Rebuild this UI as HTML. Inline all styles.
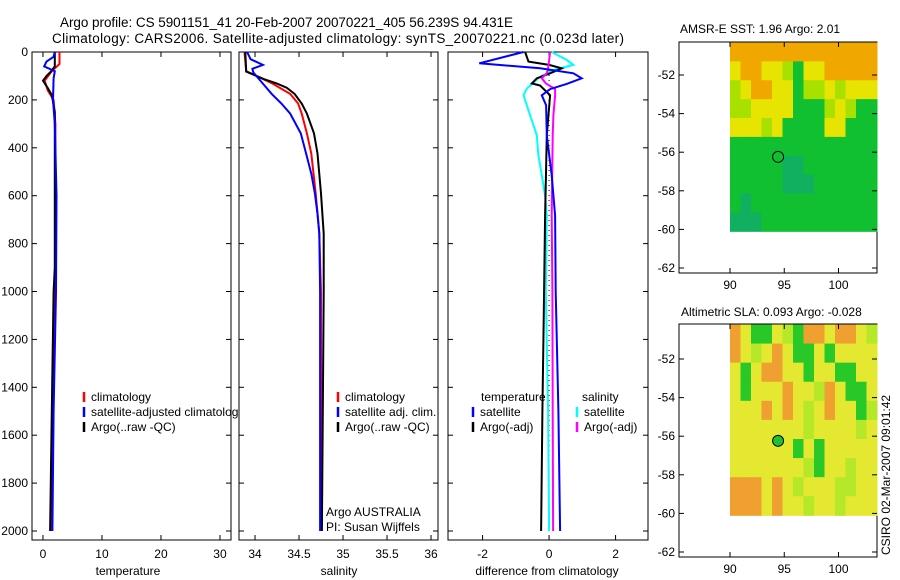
<!DOCTYPE html>
<html><head><meta charset="utf-8"><style>
body{margin:0;background:#fff}
svg{display:block;font-family:"Liberation Sans",sans-serif}
text{fill:#000}
</style></head><body>
<svg id="c" width="900" height="580" viewBox="0 0 900 580">
<text x="60" y="27" font-size="13.5" textLength="453">Argo profile: CS 5901151_41 20-Feb-2007 20070221_405 56.239S 94.431E</text>
<text x="52" y="43" font-size="13.5" textLength="572">Climatology: CARS2006. Satellite-adjusted climatology: synTS_20070221.nc (0.023d later)</text>
<text x="128" y="575" font-size="12" text-anchor="middle">temperature</text>
<text x="339" y="575" font-size="12" text-anchor="middle">salinity</text>
<text x="547" y="575" font-size="12" text-anchor="middle">difference from climatology</text>
<text transform="translate(890,555) rotate(-90)" font-size="12">CSIRO 02-Mar-2007 09:01:42</text>
<text x="680" y="33" font-size="12">AMSR-E SST: 1.96 Argo: 2.01</text>
<text x="681" y="316" font-size="12">Altimetric SLA: 0.093 Argo: -0.028</text>
<g id="g"></g>
</svg>
<script>
// ---- data ----
const depthTicks=[0,200,400,600,800,1000,1200,1400,1600,1800,2000];
const tempTicks=[0,10,20,30];
const salTicks=[34,34.5,35,35.5,36];
const salTickLabels=["34","34.5","35","35.5","36"];
const diffTicks=[-2,0,2];
const tClimD=[0,50,80,120,160,200,300,600,1000,1500,2000];
const tClimV=[2.8,2.8,1.5,0.3,0.8,1.8,2.1,2.1,2.0,1.7,1.5];
const tArgoD=[0,60,80,100,120,150,180,250,400,900,1000,1500,2000];
const tArgoV=[2.0,2.0,1.4,0.6,0.0,0.8,1.5,2.0,2.0,2.0,1.8,1.5,1.2];
const tSatD=[0,20,40,60,80,110,200,300,600,1000,1500,2000];
const tSatV=[2.0,1.8,0.6,0.2,2.0,1.8,1.7,2.0,2.3,2.2,1.8,1.6];
const sClimD=[0,80,97,132,175,215,257,340,424,591,758,1000,2000];
const sClimV=[33.88,33.9,34.0,34.2,34.4,34.49,34.53,34.59,34.64,34.69,34.73,34.75,34.75];
const sArgoD=[0,82,113,132,149,175,215,257,340,424,591,758,1000,2000];
const sArgoV=[33.89,33.9,34.1,34.25,34.36,34.45,34.53,34.59,34.67,34.71,34.75,34.78,34.78,34.76];
const sSatD=[0,30,54,70,85,132,175,215,257,340,424,508,591,675,758,1000,2000];
const sSatV=[33.91,33.95,34.09,33.97,33.98,34.09,34.19,34.3,34.4,34.52,34.58,34.64,34.68,34.71,34.73,34.74,34.74];
const dTSatD=[0,47,68,89,110,133,155,181,222,348,515,683,1000,1500,2000];
const dTSatV=[-0.77,-2.1,-0.27,0.73,0.98,0.53,0.03,-0.22,-0.09,-0.07,0.08,0.18,0.2,0.28,0.33];
const dTArgoD=[0,40,54,68,89,110,131,140,181,348,683,1000,1500,2000];
const dTArgoV=[-0.72,-0.62,0,0.38,0.03,-0.37,-0.52,-0.27,0.03,-0.07,-0.12,-0.15,-0.2,-0.24];
const dSSatD=[0,33,54,75,103,153,181,264,348,431,515,600,683,1000,1500,2000];
const dSSatV=[0.08,0.53,0.73,0.13,-0.27,-0.67,-0.77,-0.57,-0.37,-0.32,-0.22,-0.12,-0.07,-0.1,-0.03,0];
const dSArgoD=[0,61,89,110,131,155,181,264,348,683,1000,1500,2000];
const dSArgoV=[0.03,-0.02,-0.07,-0.22,-0.1,0.18,0.18,0.13,0.11,0.08,0.1,0.11,0.12];
const latTicks=[-52,-54,-56,-58,-60,-62];
const lonTicks=[90,95,100];
const sstRows=["OOOOOOOOOOOOOO","YOOYYLGYYOOOOO","LYOOYYGLLYLYYY","LLYYYYGGGLYLGG","YYYLYGGGGYYGGG","GGGGGGGGGGGGGG","GGGGGTTGGGGGGG","GGGGGTTTGGGGGG","GTGGGGGGGGGGGG","TTTGGGGGGGGGGG"];
const slaRows=["OYGGYLGOOYOOYL","OYLYOYGGYGYYYY","YGYOOYYGYYGGYY","YGYYYOYYLOYGGY","YYYOYOYLYOYYGL","YYYYYYYLYYYYLY","YYYYYYGYGYYYYY","YYYYYYYLGYYLYY","OOOYOYLYYYLLYY","OOOYOYYLYYLYYY"];
const floatLon=94.431, floatLat=-56.239;
// ---- drawing ----
const NS="http://www.w3.org/2000/svg",G=document.getElementById('g');
function mk(t,a,p){const e=document.createElementNS(NS,t);for(const k in a)e.setAttribute(k,a[k]);(p||G).appendChild(e);return e;}
const yD=d=>52+d*0.2395;
const panels=[
 {x0:32,x1:231,v0:-1.86,s:5.9,ticks:tempTicks,labels:tempTicks.map(String),name:'temperature'},
 {x0:239,x1:438,v0:33.818,s:88,ticks:salTicks,labels:salTickLabels,name:'salinity'},
 {x0:448,x1:648,v0:-3.04,s:33.25,ticks:diffTicks,labels:diffTicks.map(String),name:'difference'}];
panels.forEach((P,i)=>{
 const xf=v=>P.x0+(v-P.v0)*P.s;
 P.xf=xf;
 const bg=mk('rect',{x:P.x0,y:52,width:P.x1-P.x0,height:488,fill:'#fff',stroke:'#000'});
 
 
 P.ticks.forEach((t,j)=>{
  const x=xf(t);
  mk('line',{x1:x,x2:x,y1:52,y2:57,stroke:'#000'});
  mk('line',{x1:x,x2:x,y1:540,y2:535,stroke:'#000'});
  const tl=mk('text',{x:x,y:558,'font-size':12,'text-anchor':'middle'});tl.textContent=P.labels[j];
  
  
 });
 depthTicks.forEach(d=>{
  const y=yD(d);
  mk('line',{x1:P.x0,x2:P.x0+5,y1:y,y2:y,stroke:'#000'});
  mk('line',{x1:P.x1,x2:P.x1-5,y1:y,y2:y,stroke:'#000'});
  if(i==0){const tl=mk('text',{x:28,y:y+4,'font-size':12,'text-anchor':'end'});tl.textContent=d;
   
   }
 });
});
function line(P,D,V,col,name){
 const pts=D.map((d,k)=>P.xf(V[k]).toFixed(1)+','+yD(d).toFixed(1)).join(' ');
 const l=mk('polyline',{points:pts,fill:'none',stroke:col,'stroke-width':2});
 
 
}
const [P1,P2,P3]=panels;
line(P1,tClimD,tClimV,'#f00','temp-climatology-line');
line(P1,tArgoD,tArgoV,'#000','temp-argo-line');
line(P1,tSatD,tSatV,'#00f','temp-satellite-line');
line(P2,sClimD,sClimV,'#f00','sal-climatology-line');
line(P2,sArgoD,sArgoV,'#000','sal-argo-line');
line(P2,sSatD,sSatV,'#00f','sal-satellite-line');
mk('line',{x1:P3.xf(0),x2:P3.xf(0),y1:60,y2:535,stroke:'#000','stroke-dasharray':'1,4'});
line(P3,dSSatD,dSSatV,'#0ff','diff-sal-satellite-line');
line(P3,dTArgoD,dTArgoV,'#000','diff-temp-argo-line');
line(P3,dSArgoD,dSArgoV,'#f0f','diff-sal-argo-line');
line(P3,dTSatD,dTSatV,'#00f','diff-temp-satellite-line');
// legends
function leg(x,y,col,txt,name){
 mk('line',{x1:x,x2:x,y1:y-9,y2:y+1,stroke:col,'stroke-width':2.5});
 const t=mk('text',{x:x+7,y:y,'font-size':12});t.textContent=txt;
 
 
}
const clip=mk('clipPath',{id:'cl1'});mk('rect',{x:32,y:52,width:206,height:488},clip);
const lg1=mk('g',{'clip-path':'url(#cl1)'});
[['#f00','climatology'],['#00f','satellite-adjusted climatology'],['#000','Argo(..raw -QC)']].forEach((r,k)=>{
 mk('line',{x1:84,x2:84,y1:392+k*15,y2:402+k*15,stroke:r[0],'stroke-width':2.5},lg1);
 const t=mk('text',{x:91,y:401+k*15,'font-size':12},lg1);t.textContent=r[1];
 
 
});
leg(338,401,'#f00','climatology','sal-legend-climatology');
leg(338,416,'#00f','satellite adj. clim.','sal-legend-satellite');
leg(338,431,'#000','Argo(..raw -QC)','sal-legend-argo');
let t=mk('text',{x:481,y:401,'font-size':12});t.textContent='temperature';
t=mk('text',{x:582,y:401,'font-size':12});t.textContent='salinity';
leg(473,416,'#00f','satellite','diff-legend-temp-satellite');
leg(473,431,'#000','Argo(-adj)','diff-legend-temp-argo');
leg(577,416,'#0ff','satellite','diff-legend-sal-satellite');
leg(577,431,'#f0f','Argo(-adj)','diff-legend-sal-argo');
t=mk('text',{x:326,y:516,'font-size':12});t.textContent='Argo AUSTRALIA';
t=mk('text',{x:326,y:531,'font-size':12});t.textContent='PI: Susan Wijffels';
// maps
const cols={O:'#f0a800',Y:'#e6e400',L:'#a8e000',G:'#10c030',T:'#10b060'};
const cols2={O:'#f0a030',Y:'#e4e830',L:'#b4e828',G:'#28c828',T:'#10b060'};
function map(top,latY52,rows,pal,name,fill){
 const bot=top+231+(name=='sla'?2:0);
 const fr=mk('rect',{x:679,y:top,width:198,height:bot-top,fill:'#fff',stroke:'#000'});
 
 
 const lx=l=>730+(l-90)*10.85, ly=a=>latY52+(-52-a)*19.3;
 const iy0=top+0.5, iy1=ly(-60.1), rh=(iy1-iy0)/rows.length, cw=(877-730)/14;
 rows.forEach((r,ri)=>{for(let ci=0;ci<r.length;ci++){
  mk('rect',{x:730+ci*cw,y:iy0+ri*rh,width:cw+0.5,height:rh+0.5,fill:pal[r[ci]]});
 }});
 latTicks.forEach(a=>{const y=ly(a);
  mk('line',{x1:679,x2:684,y1:y,y2:y,stroke:'#000'});mk('line',{x1:877,x2:872,y1:y,y2:y,stroke:'#000'});
  const tl=mk('text',{x:675,y:y+4,'font-size':12,'text-anchor':'end'});tl.textContent=a;
  
  });
 lonTicks.forEach(o=>{const x=lx(o);
  mk('line',{x1:x,x2:x,y1:top,y2:top+5,stroke:'#000'});mk('line',{x1:x,x2:x,y1:bot,y2:bot-5,stroke:'#000'});
  const tl=mk('text',{x:x,y:bot+16,'font-size':12,'text-anchor':'middle'});tl.textContent=o;
  
  });
 const c=mk('circle',{cx:lx(floatLon),cy:ly(floatLat),r:5.5,fill:fill,stroke:'#000'});
 
 
}
map(42,75,sstRows,cols,'sst','none');
map(324,359,slaRows,cols2,'sla','#20c030');
</script>
</body></html>
